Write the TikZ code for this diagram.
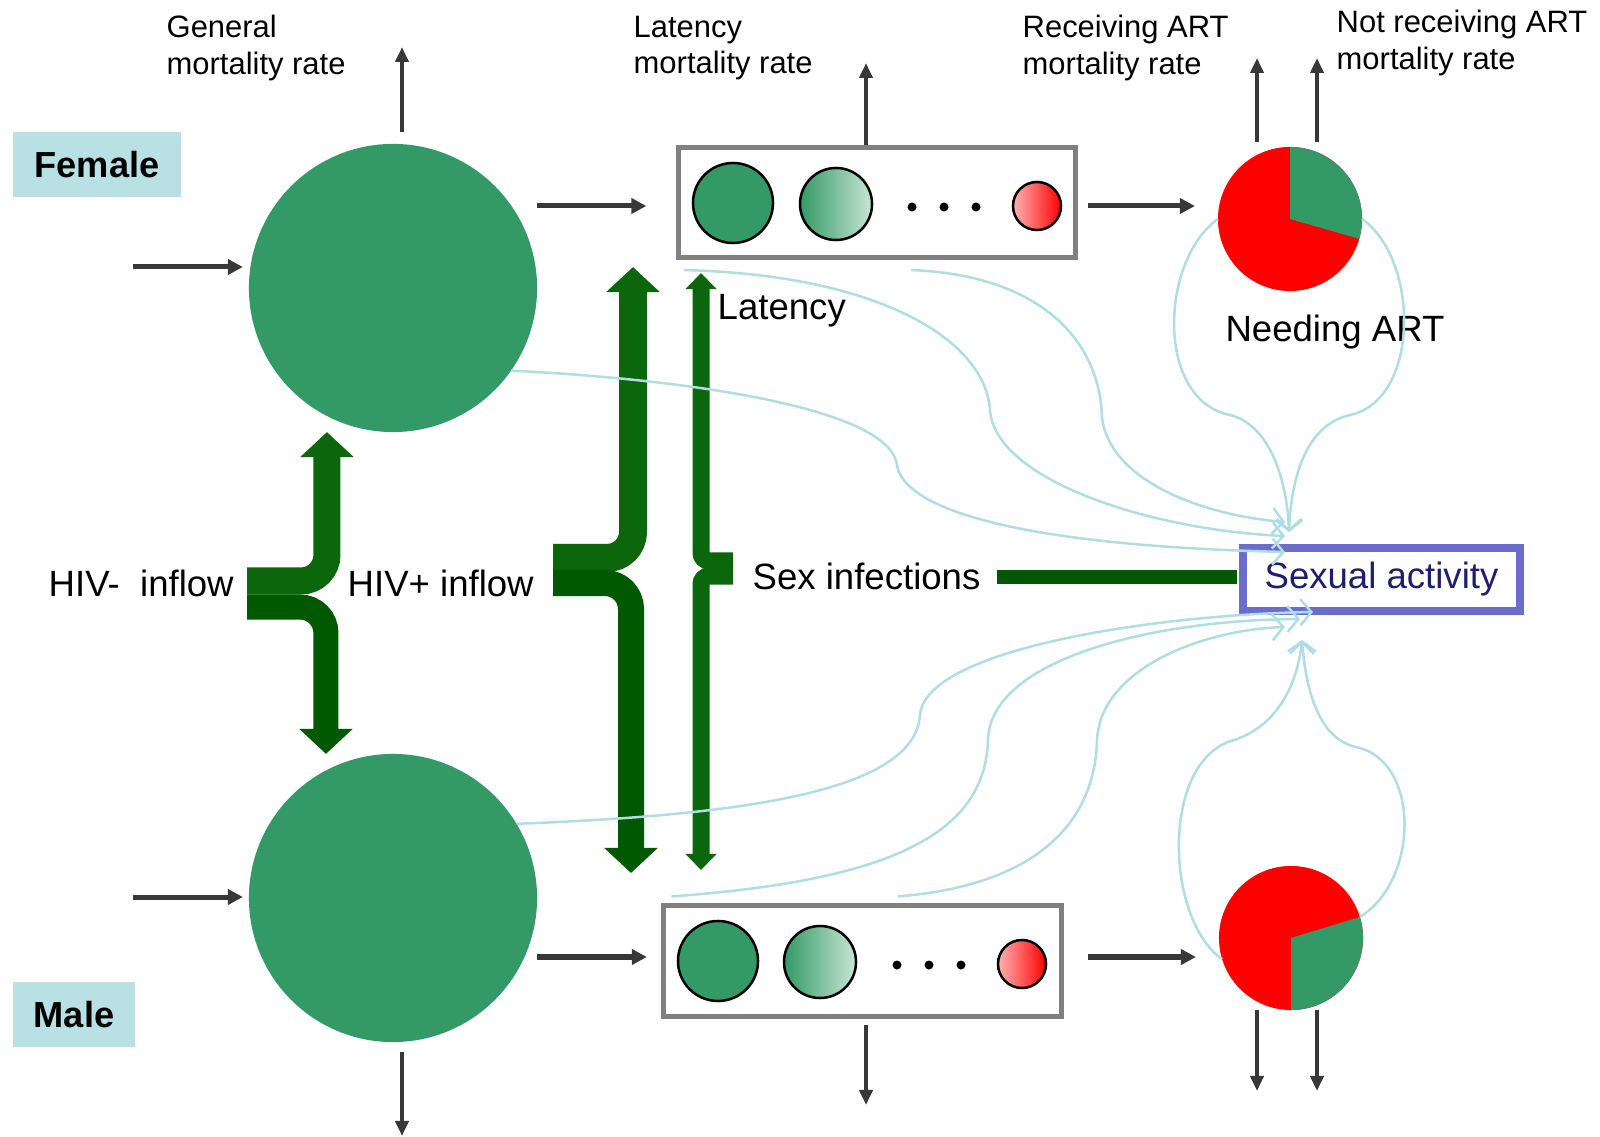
\documentclass[tikz,border=0pt]{standalone}
\usepackage{fontspec}
\setmainfont{Liberation Sans}
\usetikzlibrary{arrows.meta,positioning}

\definecolor{popgreen}{RGB}{51,153,102}
\definecolor{lightpop}{RGB}{200,230,212}
\definecolor{tagblue}{RGB}{185,224,227}
\definecolor{boxgray}{RGB}{128,128,128}
\definecolor{arrowgray}{RGB}{56,56,56}
\definecolor{inflowup}{RGB}{12,102,12}
\definecolor{inflowdown}{RGB}{0,88,0}
\definecolor{contactblue}{RGB}{176,221,226}
\definecolor{actblue}{RGB}{108,108,204}
\definecolor{acttext}{RGB}{30,30,110}
\definecolor{artred}{RGB}{255,0,0}

\begin{document}
\begin{tikzpicture}[
  x=0.01cm, y=0.01cm,
  population/.style={circle, fill=popgreen, minimum size=2.88cm, inner sep=0pt, outer sep=0pt},
  sextag/.style={fill=tagblue, minimum height=0.65cm, inner sep=0pt,
              font=\fontsize{10.3}{12}\selectfont\bfseries},
  latbox/.style={draw=boxgray, line width=0.05cm, minimum width=3.97cm, minimum height=1.1cm},
  stage/.style={circle, draw=black, line width=0.025cm, inner sep=0pt},
  pie/.style={circle, fill=artred, minimum size=1.44cm, inner sep=0pt, outer sep=0pt},
  ratetxt/.style={font=\fontsize{8.8}{10.4}\selectfont, align=left, inner sep=0pt},
  labeltxt/.style={font=\fontsize{10.4}{12.5}\selectfont, inner sep=0pt},
  flow/.style={draw=arrowgray, line width=0.05cm, -{Triangle[width=0.15cm,length=0.15cm]}},
  mort/.style={draw=arrowgray, line width=0.04cm, -{Triangle[width=0.13cm,length=0.15cm]}},
  inflow/.style={rounded corners=0.26cm, -{Triangle[width=0.52cm,length=0.25cm]}},
  latflow/.style={draw=inflowup, line width=0.17cm, rounded corners=0.08cm,
              -{Triangle[width=0.3cm,length=0.16cm]}},
  contact/.style={draw=contactblue, line width=0.025cm,
              -{Straight Barb[length=0.11cm,width=0.26cm]}},
]
\useasboundingbox (0,0) rectangle (1600,-1137);

% populations
\node[population] (fpop) at (393,-288) {};
\node[population] (mpop) at (393,-898) {};
\node[sextag, minimum width=1.68cm] (ftag) at (97,-164.5) {Female};
\node[sextag, minimum width=1.22cm] (mtag) at (74,-1014.5) {Male};

% latency stages
\node[latbox] (flat) at (877,-202.5) {};
\node[latbox] (mlat) at (862.5,-961) {};
\node[stage, fill=popgreen, minimum size=0.8cm] (fs1) at (733,-203) {};
\node[stage, left color=popgreen, right color=lightpop, minimum size=0.72cm] (fs2) at (836,-204) {};
\node[stage, left color=red!30, right color=red, minimum size=0.48cm] (fsn) at (1037,-206) {};
\foreach \x in {912,944,976} \fill (\x,-207) circle[radius=0.045cm];
\node[stage, fill=popgreen, minimum size=0.8cm] (ms1) at (718,-961) {};
\node[stage, left color=popgreen, right color=lightpop, minimum size=0.72cm] (ms2) at (820,-962) {};
\node[stage, left color=red!30, right color=red, minimum size=0.48cm] (msn) at (1022,-964) {};
\foreach \x in {897,929,961} \fill (\x,-965) circle[radius=0.045cm];

% needing ART
\node[pie] (fpie) at (1290,-219) {};
\fill[popgreen] (fpie.center) -- (fpie.north) arc[start angle=90, end angle=-16, radius=0.72cm] -- cycle;
\node[pie] (mpie) at (1291,-938) {};
\fill[popgreen] (mpie.center) -- (mpie.south) arc[start angle=-90, end angle=17, radius=0.72cm] -- cycle;

\node[draw=actblue, line width=0.075cm, minimum width=2.77cm, minimum height=0.63cm,
      labeltxt, text=acttext] (sexact) at (1381.5,-579.5) {Sexual activity};

% texts
\node[ratetxt, anchor=west] (gentxt) at (166,-48) {General\\mortality rate};
\node[ratetxt, anchor=west] (lattxt) at (633,-48) {Latency\\mortality rate};
\node[ratetxt, anchor=west] (rectxt) at (1022,-48) {Receiving ART\\mortality rate};
\node[ratetxt, anchor=west] (nrectxt) at (1336,-43) {Not receiving ART\\mortality rate};
\node[labeltxt, anchor=base] (needtxt) at (1335,-342) {Needing ART};
\node[labeltxt, anchor=base west] (lattag) at (717,-320) {Latency};
\node[labeltxt, anchor=base west] (negtxt) at (48,-597) {HIV-\ \ inflow};
\node[labeltxt, anchor=base west] (postxt) at (347,-597) {HIV+ inflow};
\node[labeltxt, anchor=base west] (sextxt) at (752,-590) {Sex infections};

% free ends
\coordinate (fbirth) at (133,-267);
\coordinate (mbirth) at (133,-897);
\coordinate (fgen) at (402,-47);
\coordinate (mgen) at (402,-1136);
\coordinate (flatd) at (866,-63);
\coordinate (mlatd) at (866,-1105);
\coordinate (frecd) at (1257,-58);
\coordinate (fnrecd) at (1317,-58);
\coordinate (mrecd) at (1257,-1091);
\coordinate (mnrecd) at (1317,-1091);
\coordinate (mlatin) at ([yshift=0.04cm]mlat.west);
\coordinate (mlatout) at ([yshift=0.04cm]mlat.east);
\coordinate (negin) at (247,-594);
\coordinate (posin) at (553,-571);
\coordinate (posup) at (633,-267);
\coordinate (posdown) at (631,-873);
\coordinate (latin) at (733,-568.5);
\coordinate (latup) at (701,-273);
\coordinate (latdown) at (701,-870);
\coordinate (tipA) at (1285,-522);
\coordinate (tipB) at (1285,-536);
\coordinate (tipC) at (1285,-552);
\coordinate (tipD) at (1289,-532);
\coordinate (tipF) at (1313,-612);
\coordinate (tipG) at (1300,-619);
\coordinate (tipH) at (1285,-627);
\coordinate (tipM) at (1302,-640);

% flows
\draw[flow, shorten >=0.06cm] (fbirth) -- (fbirth -| fpop.west);
\draw[flow, shorten >=0.06cm] (mbirth) -- (mbirth -| mpop.west);
\draw[flow, shorten >=0.295cm] (fpop.east |- fsn) -- (flat.west |- fsn);
\draw[flow, shorten >=0.145cm] (mpop.east |- mlatin) -- (mlatin);
\draw[flow, shorten <=0.1cm, shorten >=0.23cm] (flat.east |- fsn) -- (fpie.west |- fsn);
\draw[flow, shorten <=0.245cm, shorten >=0.23cm] (mlatout) -- (mlatout -| mpie.west);

% mortality
\draw[mort, shorten <=0.12cm] (fgen |- fpop.north) -- (fgen);
\draw[mort, shorten <=0.1cm] (mgen |- mpop.south) -- (mgen);
\draw[mort] (flatd |- flat.north) -- (flatd);
\draw[mort, shorten <=0.065cm] (mlatd |- mlat.south) -- (mlatd);
\draw[mort, shorten <=0.05cm] (frecd |- fpie.north) -- (frecd);
\draw[mort, shorten <=0.05cm] (fnrecd |- fpie.north) -- (fnrecd);
\draw[mort] (mrecd |- mpie.south) -- (mrecd);
\draw[mort] (mnrecd |- mpie.south) -- (mnrecd);

% inflows
\draw[inflow, draw=inflowup, line width=0.27cm] ([yshift=0.13cm]negin) -| ([xshift=-0.66cm]fpop.south);
\draw[inflow, draw=inflowdown, line width=0.25cm] ([yshift=-0.13cm]negin) -| ([xshift=-0.67cm]mpop.north);
\draw[inflow, draw=inflowup, line width=0.28cm] ([yshift=0.13cm]posin) -| (posup);
\draw[inflow, draw=inflowdown, line width=0.26cm] ([yshift=-0.12cm]posin) -| (posdown);
\draw[latflow] ([yshift=0.075cm]latin) -| (latup);
\draw[latflow] ([yshift=-0.075cm]latin) -| (latdown);
\draw[draw=inflowdown, line width=0.14cm, shorten <=0.16cm, shorten >=0.02cm]
  (sextxt.east) -- (sextxt.east -| sexact.west);

% contacts
\draw[contact] (fpop.-35) .. controls (700,-380) and (890,-410) .. (897,-465)
  .. controls (903,-505) and (1000,-545) .. (tipC);
\draw[contact] ([xshift=0.08cm,yshift=-0.1cm]flat.south west) .. controls (880,-275) and (985,-340) .. (990,-410)
  .. controls (995,-480) and (1150,-530) .. (tipB);
\draw[contact] ([xshift=0.34cm,yshift=-0.1cm]flat.south) .. controls (1040,-275) and (1100,-340) .. (1102,-418)
  .. controls (1110,-480) and (1200,-515) .. (tipA);
\draw[contact] (fpie.west) .. controls (1160,-260) and (1155,-400) .. (1230,-415)
  .. controls (1270,-425) and (1287,-480) .. (tipD);
\draw[contact] (fpie.east) .. controls (1420,-260) and (1420,-400) .. (1350,-415)
  .. controls (1305,-425) and (1291,-480) .. (tipD);
\draw[contact] (mpop.31) .. controls (750,-815) and (915,-790) .. (920,-715)
  .. controls (925,-650) and (1150,-615) .. (tipF);
\draw[contact] ([xshift=0.1cm,yshift=0.07cm]mlat.north west) .. controls (900,-880) and (985,-830) .. (988,-740)
  .. controls (990,-660) and (1150,-620) .. (tipG);
\draw[contact] ([xshift=0.355cm,yshift=0.07cm]mlat.north) .. controls (1040,-885) and (1095,-820) .. (1097,-740)
  .. controls (1100,-670) and (1200,-630) .. (tipH);
\draw[contact] (mpie.197) .. controls (1165,-920) and (1160,-760) .. (1234,-740)
  .. controls (1280,-725) and (1298,-680) .. (tipM);
\draw[contact] (mpie.17) .. controls (1420,-880) and (1420,-760) .. (1356,-747)
  .. controls (1315,-738) and (1305,-680) .. (tipM);

\end{tikzpicture}
\end{document}
